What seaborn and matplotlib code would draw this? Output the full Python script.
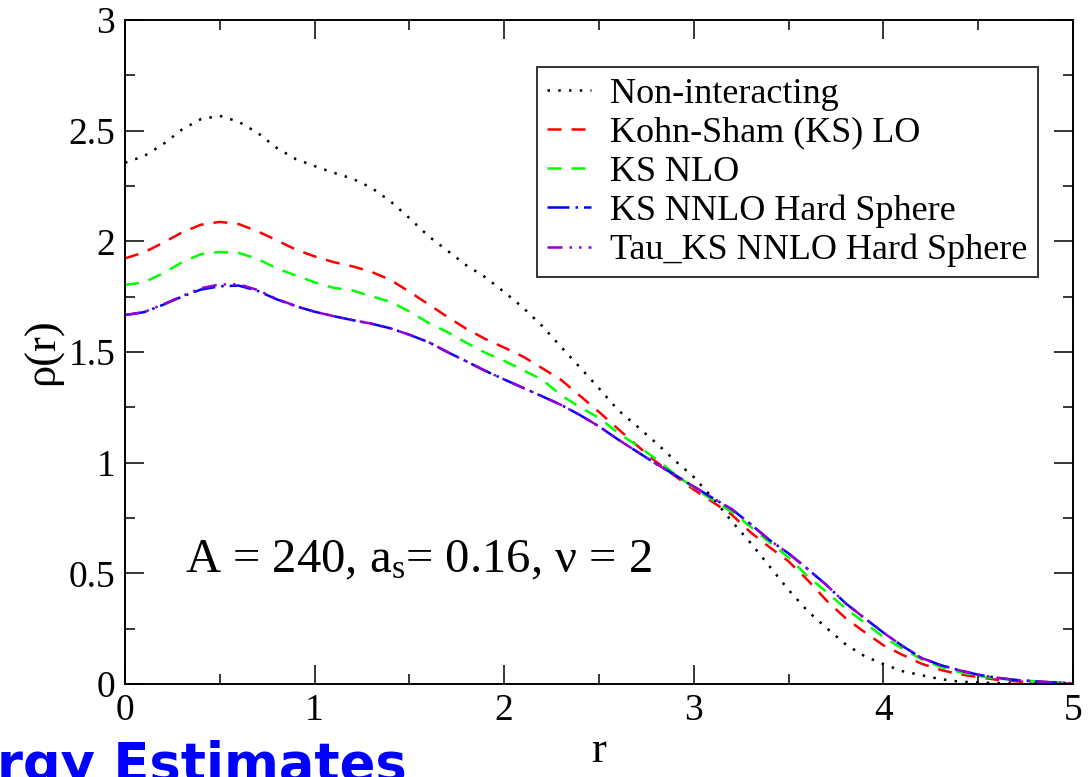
"""Radial density profiles rho(r) for A = 240 (Kohn-Sham variants)."""

import matplotlib

matplotlib.use("Agg")
import matplotlib.pyplot as plt
import pandas as pd
import seaborn as sns
from matplotlib.ticker import FuncFormatter, MultipleLocator


r_values = [round(0.1 * i, 1) for i in range(51)]

non_interacting = [
    2.355, 2.385, 2.438, 2.505, 2.552, 2.567, 2.540, 2.490, 2.422, 2.372,
    2.340, 2.310, 2.283, 2.242, 2.181, 2.105, 2.024, 1.958, 1.892, 1.838,
    1.771, 1.700, 1.618, 1.523, 1.430, 1.336, 1.238, 1.165, 1.090, 1.010,
    0.935, 0.840, 0.735, 0.637, 0.531, 0.425, 0.330, 0.253, 0.180, 0.126,
    0.090, 0.058, 0.040, 0.022, 0.011, 0.007, 0.004, 0.002, 0.001, 0.000,
    0.000,
]
ks_lo = [
    1.923, 1.950, 1.993, 2.040, 2.075, 2.088, 2.078, 2.045, 2.005, 1.963,
    1.932, 1.906, 1.887, 1.862, 1.826, 1.772, 1.716, 1.659, 1.605, 1.559,
    1.520, 1.479, 1.427, 1.374, 1.302, 1.229, 1.153, 1.078, 1.005, 0.940,
    0.878, 0.822, 0.765, 0.685, 0.618, 0.554, 0.470, 0.377, 0.298, 0.235,
    0.175, 0.132, 0.092, 0.064, 0.044, 0.031, 0.019, 0.012, 0.008, 0.004,
    0.002,
]
ks_nlo = [
    1.803, 1.815, 1.855, 1.905, 1.942, 1.952, 1.948, 1.920, 1.878, 1.846,
    1.815, 1.790, 1.778, 1.752, 1.727, 1.683, 1.632, 1.590, 1.542, 1.497,
    1.460, 1.418, 1.375, 1.305, 1.250, 1.203, 1.135, 1.078, 1.017, 0.948,
    0.886, 0.831, 0.778, 0.710, 0.640, 0.572, 0.487, 0.416, 0.342, 0.278,
    0.212, 0.160, 0.112, 0.078, 0.054, 0.036, 0.025, 0.018, 0.013, 0.008,
    0.004,
]
ks_nnlo_hs = [
    1.667, 1.680, 1.713, 1.750, 1.782, 1.797, 1.800, 1.776, 1.738, 1.707,
    1.682, 1.662, 1.644, 1.628, 1.607, 1.578, 1.545, 1.500, 1.458, 1.415,
    1.376, 1.338, 1.300, 1.261, 1.215, 1.164, 1.105, 1.050, 0.995, 0.945,
    0.892, 0.840, 0.790, 0.722, 0.650, 0.590, 0.520, 0.447, 0.365, 0.298,
    0.232, 0.172, 0.118, 0.086, 0.062, 0.042, 0.028, 0.018, 0.012, 0.007,
    0.003,
]
tau_ks_nnlo_hs = [
    1.667, 1.680, 1.715, 1.752, 1.788, 1.805, 1.806, 1.780, 1.740, 1.708,
    1.682, 1.662, 1.644, 1.628, 1.607, 1.578, 1.545, 1.500, 1.458, 1.415,
    1.376, 1.338, 1.300, 1.261, 1.215, 1.164, 1.105, 1.050, 0.995, 0.945,
    0.892, 0.840, 0.790, 0.722, 0.650, 0.590, 0.520, 0.447, 0.365, 0.298,
    0.232, 0.172, 0.118, 0.086, 0.062, 0.042, 0.028, 0.018, 0.012, 0.007,
    0.003,
]

series_labels = [
    "Non-interacting",
    "Kohn-Sham (KS) LO",
    "KS NLO",
    "KS NNLO Hard Sphere",
    "Tau_KS NNLO Hard Sphere",
]
series_values = [non_interacting, ks_lo, ks_nlo, ks_nnlo_hs, tau_ks_nnlo_hs]
series_colors = ["#000000", "#ff0000", "#00ff00", "#0000ff", "#9400d3"]
series_styles = [
    (0, (1, 3.3)),
    (0, (5.6, 4)),
    (0, (5.6, 4)),
    (0, (8.8, 2.4, 1, 2.4)),
    (0, (6, 2.8, 1, 2.8, 1, 2.8)),
]


def main():
    sns.set_theme(style="ticks")
    plt.rcParams["font.family"] = ["Liberation Serif", "DejaVu Serif"]
    plt.rcParams["mathtext.fontset"] = "custom"
    plt.rcParams["mathtext.rm"] = "Liberation Serif"
    plt.rcParams["mathtext.it"] = "Liberation Serif:italic"
    plt.rcParams["text.color"] = "black"
    plt.rcParams["axes.labelcolor"] = "black"

    fig = plt.figure(figsize=(10.9, 7.77), dpi=100)
    ax = fig.add_axes([125 / 1090, 1 - 684 / 777, 948 / 1090, 664 / 777])

    for label, values, color, style in zip(
        series_labels, series_values, series_colors, series_styles
    ):
        df = pd.DataFrame({"r": r_values, "rho": values})
        sns.lineplot(
            data=df, x="r", y="rho", ax=ax, color=color, linestyle=style,
            linewidth=1.8, label=label, legend=False,
        )

    ax.set_xlim(0, 5)
    ax.set_ylim(0, 3)
    ax.xaxis.set_major_locator(MultipleLocator(1))
    ax.xaxis.set_minor_locator(MultipleLocator(0.5))
    ax.yaxis.set_major_locator(MultipleLocator(0.5))
    ax.yaxis.set_minor_locator(MultipleLocator(0.25))
    fmt = FuncFormatter(lambda v, pos: f"{v:g}")
    ax.xaxis.set_major_formatter(fmt)
    ax.yaxis.set_major_formatter(fmt)
    ax.tick_params(which="both", direction="in", top=True, right=True,
                   width=1.1, colors="black", labelsize=27)
    ax.tick_params(which="major", length=14, pad=7)
    ax.tick_params(which="minor", length=7)
    for spine in ax.spines.values():
        spine.set_linewidth(1.4)
        spine.set_color("black")

    ax.set_xlabel("r", fontsize=32, labelpad=2)
    ax.set_ylabel("ρ(r)", fontsize=32, labelpad=4)

    ax.text(0.316, 0.506, "A = 240, a$_{\\rm s}$= 0.16, ν = 2",
            fontsize=35, ha="left", va="baseline")

    leg = ax.legend(
        loc="upper right", bbox_to_anchor=(0.963, 0.929), borderaxespad=0,
        fontsize=26, frameon=True, fancybox=False, edgecolor="black",
        handlelength=1.2, handletextpad=0.55, labelspacing=0.16,
        borderpad=0.28,
    )
    leg.get_frame().set_linewidth(1.4)

    fig.text(-0.003, -0.005, "rgy Estimates", color="#0000ff",
             fontsize=38, fontweight="bold", family="DejaVu Sans",
             ha="left", va="baseline")

    fig.savefig("out.png", dpi=100)
    plt.close(fig)


if __name__ == "__main__":
    main()
